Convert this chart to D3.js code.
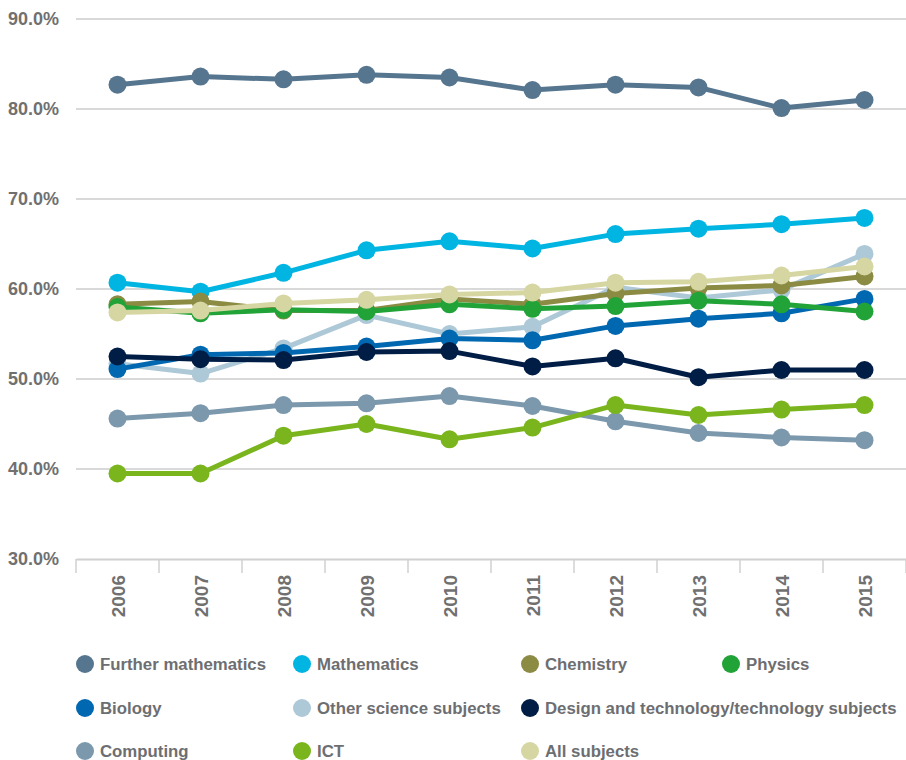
<!DOCTYPE html>
<html>
<head>
<meta charset="utf-8">
<script src="https://cdn.jsdelivr.net/npm/d3@7"></script>
<style>
  html, body { margin: 0; padding: 0; background: #fff; }
  svg { display: block; }
  text { font-family: "Liberation Sans", Arial, sans-serif; font-weight: bold; }
</style>
</head>
<body>
<svg id="chart" width="906" height="760"></svg>
<script>
const years = ["2006","2007","2008","2009","2010","2011","2012","2013","2014","2015"];
const yTicks = [30, 40, 50, 60, 70, 80, 90];

const seriesNames = ["Further mathematics","Mathematics","Chemistry","Physics","Biology",
  "Other science subjects","Design and technology/technology subjects","Computing","ICT","All subjects"];
const seriesColors = ["#56758f","#00b5e2","#8b8b44","#21a338","#0067b1",
  "#adc8d6","#001d45","#7b98ad","#7ab51e","#d6d6a2"];

const furtherMaths = [82.7, 83.6, 83.3, 83.8, 83.5, 82.1, 82.7, 82.4, 80.1, 81.0];
const mathematics  = [60.7, 59.7, 61.8, 64.3, 65.3, 64.5, 66.1, 66.7, 67.2, 67.9];
const chemistry    = [58.3, 58.6, 57.6, 57.6, 58.9, 58.3, 59.5, 60.1, 60.4, 61.4];
const physics      = [58.0, 57.3, 57.7, 57.5, 58.3, 57.8, 58.1, 58.7, 58.3, 57.5];
const biology      = [51.1, 52.7, 52.9, 53.6, 54.5, 54.3, 55.9, 56.7, 57.3, 58.9];
const otherScience = [51.7, 50.6, 53.4, 57.1, 55.0, 55.8, 60.2, 59.0, 59.9, 63.9];
const designTech   = [52.5, 52.2, 52.1, 53.0, 53.1, 51.4, 52.3, 50.2, 51.0, 51.0];
const computing    = [45.6, 46.2, 47.1, 47.3, 48.1, 47.0, 45.3, 44.0, 43.5, 43.2];
const ict          = [39.5, 39.5, 43.7, 45.0, 43.3, 44.6, 47.1, 46.0, 46.6, 47.1];
const allSubjects  = [57.4, 57.6, 58.4, 58.8, 59.4, 59.6, 60.7, 60.8, 61.5, 62.5];

const seriesValues = [furtherMaths, mathematics, chemistry, physics, biology,
  otherScience, designTech, computing, ict, allSubjects];
// drawing order (index into series), last is on top
const drawOrder = [0, 1, 5, 7, 8, 4, 6, 2, 3, 9];

const svg = d3.select("#chart");
const plotLeft = 76, plotRight = 906, plotTop = 19, plotBottom = 559;

const x = d3.scaleBand().domain(years).range([plotLeft, plotRight]).padding(0);
const y = d3.scaleLinear().domain([30, 90]).range([plotBottom, plotTop]);

// gridlines
svg.append("g").selectAll("line")
  .data(yTicks.filter(t => t > 30))
  .join("line")
  .attr("x1", plotLeft).attr("x2", plotRight)
  .attr("y1", d => y(d)).attr("y2", d => y(d))
  .attr("stroke", "#d9d9d9").attr("stroke-width", 2);

// y labels
svg.append("g").selectAll("text")
  .data(yTicks)
  .join("text")
  .attr("x", 59).attr("y", d => y(d))
  .attr("dy", "0.35em")
  .attr("text-anchor", "end")
  .attr("fill", "#707070")
  .style("font-size", "18px")
  .text(d => d.toFixed(1) + "%");

// x axis
const xAxis = d3.axisBottom(x).tickSize(0).tickFormat("");
const gx = svg.append("g").attr("transform", `translate(0,${plotBottom})`).call(xAxis);
gx.select(".domain").attr("stroke", "#d0d0d0").attr("stroke-width", 2);
// tick marks at band boundaries
const boundaries = years.map(yr => x(yr)).concat([x(years[years.length-1]) + x.bandwidth()]);
svg.append("g").selectAll("line")
  .data(boundaries)
  .join("line")
  .attr("x1", d => d).attr("x2", d => d)
  .attr("y1", plotBottom).attr("y2", plotBottom + 14)
  .attr("stroke", "#d0d0d0").attr("stroke-width", 1.5);
// year labels
svg.append("g").selectAll("text")
  .data(years)
  .join("text")
  .attr("transform", d => `translate(${x(d) + x.bandwidth()/2 + 7},${plotBottom + 16}) rotate(-90)`)
  .attr("text-anchor", "end")
  .attr("fill", "#707070")
  .style("font-size", "19px")
  .text(d => d);

// lines and points
const line = d3.line()
  .x((d, i) => x(years[i]) + x.bandwidth()/2)
  .y(d => y(d));

drawOrder.forEach(si => {
  const g = svg.append("g");
  g.append("path")
    .datum(seriesValues[si])
    .attr("d", line)
    .attr("fill", "none")
    .attr("stroke", seriesColors[si])
    .attr("stroke-width", 5)
    .attr("stroke-linejoin", "round");
  g.selectAll("circle")
    .data(seriesValues[si])
    .join("circle")
    .attr("cx", (d, i) => x(years[i]) + x.bandwidth()/2)
    .attr("cy", d => y(d))
    .attr("r", 9)
    .attr("fill", seriesColors[si]);
});

// legend (flow layout over 4 columns; long label takes two columns)
const legendColX = [85, 302, 530, 731];
const legendRowY = [664, 708, 751];
const legendSpan = [1, 1, 1, 1, 1, 1, 2, 1, 1, 1];
let col = 0, row = 0;
const legendPos = seriesNames.map((n, i) => {
  if (col + legendSpan[i] > 4) { col = 0; row++; }
  const p = { x: legendColX[col], y: legendRowY[row] };
  col += legendSpan[i];
  if (col >= 4) { col = 0; row++; }
  return p;
});
const lg = svg.append("g");
seriesNames.forEach((n, i) => {
  const p = legendPos[i];
  lg.append("circle").attr("cx", p.x).attr("cy", p.y).attr("r", 9).attr("fill", seriesColors[i]);
  lg.append("text").attr("x", p.x + 15).attr("y", p.y).attr("dy", "0.36em")
    .attr("fill", "#6d6e71").style("font-size", "16.8px").text(n);
});
</script>
</body>
</html>
